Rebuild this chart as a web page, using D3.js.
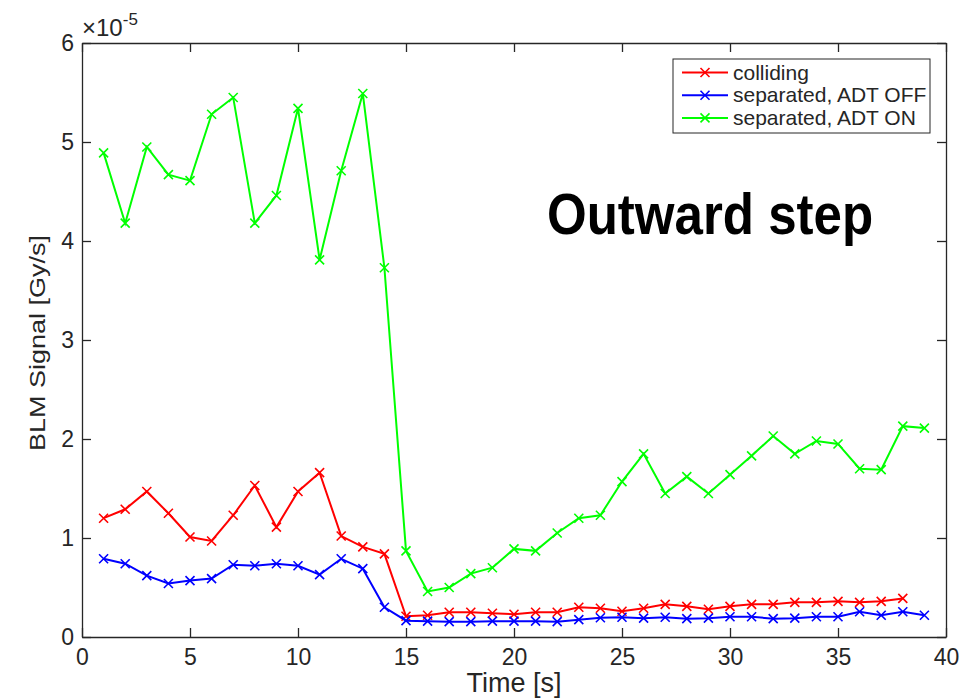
<!DOCTYPE html>
<html>
<head>
<meta charset="utf-8">
<script src="https://cdn.jsdelivr.net/npm/d3@7"></script>
<style>
  body { margin: 0; background: #fff; }
  text { font-family: "Liberation Sans", Arial, sans-serif; fill: #262626; }
</style>
</head>
<body>
<svg id="canvas" width="979" height="698"></svg>
<script>
// values in units of 1e-5 Gy/s
const timeGreen = d3.range(1, 40)
const timeRed = d3.range(1, 39)
const timeBlue = d3.range(1, 40)

const colliding = [1.20,1.29,1.47,1.25,1.01,0.97,1.23,1.53,1.11,1.47,1.66,1.02,0.91,0.84,0.21,0.22,0.25,0.25,0.24,0.23,0.25,0.25,0.30,0.29,0.26,0.29,0.33,0.31,0.28,0.31,0.33,0.33,0.35,0.35,0.36,0.35,0.36,0.39]
const sepOff = [0.79,0.74,0.62,0.54,0.57,0.59,0.73,0.72,0.74,0.72,0.63,0.79,0.69,0.30,0.165,0.16,0.155,0.155,0.16,0.16,0.16,0.155,0.175,0.195,0.20,0.19,0.20,0.185,0.19,0.205,0.205,0.185,0.19,0.205,0.205,0.255,0.22,0.255,0.22]
const sepOn = [4.89,4.18,4.95,4.67,4.61,5.28,5.45,4.18,4.46,5.34,3.81,4.71,5.49,3.73,0.87,0.46,0.50,0.64,0.70,0.89,0.87,1.05,1.20,1.23,1.57,1.85,1.45,1.62,1.45,1.64,1.83,2.03,1.85,1.98,1.95,1.70,1.69,2.13,2.11]

const seriesNames = ['colliding', 'separated, ADT OFF', 'separated, ADT ON']
const seriesColors = ['#ff0000', '#0000ff', '#00ff00']

const xTicks = [0,5,10,15,20,25,30,35,40]
const yTicks = [0,1,2,3,4,5,6]

let canvas = d3.select('#canvas')

let m = { left: 82, right: 946, top: 43, bottom: 637 }

let x = d3.scaleLinear().domain([0, 40]).range([m.left, m.right])
let y = d3.scaleLinear().domain([0, 6]).range([m.bottom, m.top])

let axisColor = '#262626'
let fmt = d3.format('d')

// x axis (bottom) + top ticks
let xAxis = canvas.append('g')
  .attr('transform', `translate(0,${m.bottom})`)
  .call(d3.axisBottom(x).tickValues(xTicks).tickFormat(fmt).tickSizeInner(-9).tickSizeOuter(0).tickPadding(12))
let xTop = canvas.append('g')
  .attr('transform', `translate(0,${m.top})`)
  .call(d3.axisTop(x).tickValues(xTicks).tickSizeInner(-9).tickSizeOuter(0).tickFormat(''))
let yAxis = canvas.append('g')
  .attr('transform', `translate(${m.left},0)`)
  .call(d3.axisLeft(y).tickValues(yTicks).tickFormat(fmt).tickSizeInner(-9).tickSizeOuter(0).tickPadding(8))
let yRight = canvas.append('g')
  .attr('transform', `translate(${m.right},0)`)
  .call(d3.axisRight(y).tickValues(yTicks).tickSizeInner(-9).tickSizeOuter(0).tickFormat(''))

;[xAxis, xTop, yAxis, yRight].forEach(g => {
  g.selectAll('path, line').attr('stroke', axisColor).attr('stroke-width', 1.3)
  g.selectAll('text').attr('font-size', 23).attr('fill', axisColor)
    .style('font-family', '"Liberation Sans", Arial, sans-serif')
})

// exponent
let expo = canvas.append('text').attr('x', 82).attr('y', 36).attr('font-size', 24)
expo.append('tspan').attr('font-weight', 300).text('\u00d7')
expo.append('tspan').text('10')
expo.append('tspan').attr('dy', -11).attr('font-size', 17).text('-5')

// axis labels
canvas.append('text')
  .attr('x', (m.left + m.right) / 2).attr('y', 692)
  .attr('text-anchor', 'middle').attr('font-size', 27)
  .text('Time [s]')

canvas.append('text')
  .attr('transform', 'translate(45,343) rotate(-90) scale(1,0.8)')
  .attr('text-anchor', 'middle').attr('font-size', 27)
  .text('BLM Signal [Gy/s]')

// series
let series = [
  { t: timeRed, v: colliding },
  { t: timeBlue, v: sepOff },
  { t: timeGreen, v: sepOn }
]

let line = d3.line().x(d => x(d[0])).y(d => y(d[1]))

let drawX = (g, cx, cy, s, color) => {
  g.append('path')
    .attr('d', `M${cx - s},${cy - s}L${cx + s},${cy + s}M${cx - s},${cy + s}L${cx + s},${cy - s}`)
    .attr('stroke', color).attr('stroke-width', 1.6).attr('fill', 'none')
}

series.forEach((s, i) => {
  let pts = s.t.map((t, j) => [t, s.v[j]])
  let g = canvas.append('g')
  g.append('path')
    .datum(pts)
    .attr('d', line)
    .attr('fill', 'none')
    .attr('stroke', seriesColors[i])
    .attr('stroke-width', 2)
  pts.forEach(p => drawX(g, x(p[0]), y(p[1]), 4.5, seriesColors[i]))
})

// legend
let legend = canvas.append('g')
legend.append('rect')
  .attr('x', 673).attr('y', 59).attr('width', 257).attr('height', 74)
  .attr('fill', '#fff').attr('stroke', axisColor).attr('stroke-width', 1)
seriesNames.forEach((name, i) => {
  let ly = 72.5 + i * 22.7
  legend.append('line')
    .attr('x1', 682).attr('x2', 728).attr('y1', ly).attr('y2', ly)
    .attr('stroke', seriesColors[i]).attr('stroke-width', 2)
  drawX(legend, 705, ly, 4.5, seriesColors[i])
  legend.append('text')
    .attr('x', 733).attr('y', ly + 7)
    .attr('font-size', 21).attr('fill', '#000')
    .text(name)
})

// annotation
canvas.append('text')
  .attr('transform', 'translate(547,234) scale(0.88,1)')
  .attr('font-size', 58).attr('font-weight', 'bold').attr('fill', '#000')
  .style('fill', '#000')
  .text('Outward step')
</script>
</body>
</html>
